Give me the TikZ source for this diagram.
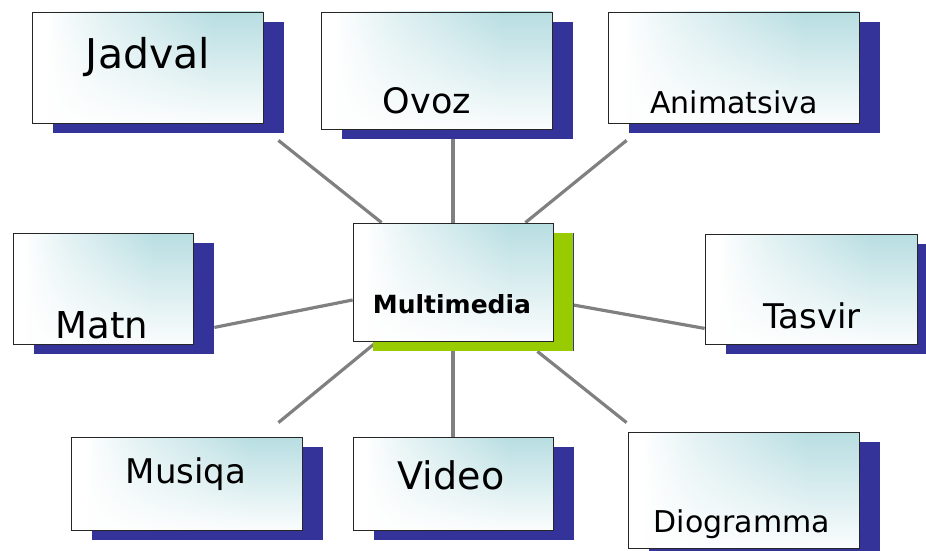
\documentclass[tikz,border=0pt]{standalone}
\usepackage{fontspec}
\setmainfont{DejaVu Sans}
\usetikzlibrary{positioning,calc,shadows,fadings,backgrounds}

\definecolor{boxteal}{RGB}{184,222,226}
\definecolor{shadowblue}{RGB}{51,51,153}
\definecolor{shadowgreen}{RGB}{153,204,0}
\definecolor{linkgray}{RGB}{128,128,128}

\pgfdeclarehorizontalshading{cardshade}{100bp}{color(0bp)=(white); color(28bp)=(white); color(40bp)=(white!60!boxteal); color(64bp)=(boxteal); color(100bp)=(boxteal)}
\tikzfading[name=cardfade, top color=transparent!100, middle color=transparent!80, bottom color=transparent!5]
\newcommand{\lblsize}[1]{\fontsize{#1}{#1}\selectfont}

\begin{document}
\begin{tikzpicture}[
x=1pt, y=-1pt,
card/.style={
  rectangle,
  draw=black!85,
  line width=0.8pt,
  inner sep=0pt,
  shading=cardshade,
  path picture={
    \fill[white, path fading=cardfade]
      (path picture bounding box.south west) rectangle (path picture bounding box.north east);
    },
  drop shadow={shadow xshift=21pt, shadow yshift=-10pt, fill=shadowblue, opacity=1}
  },
hub/.style={
  card,
  drop shadow={shadow xshift=20pt, shadow yshift=-10pt, fill=shadowgreen, opacity=1}
  },
lbl/.style={
  inner sep=0pt,
  anchor=base
  },
link/.style={
  draw=linkgray,
  line width=3.2pt
  }
]
\useasboundingbox (0,0) rectangle (926,551);

% boxes
\node[hub, minimum width=200pt, minimum height=118pt] (multi) at (453,282) {};
\node[card, minimum width=231pt, minimum height=111pt] (jadval) at (147.5,67.5) {};
\node[card, minimum width=231pt, minimum height=117pt] (ovoz) at (436.5,70.5) {};
\node[card, minimum width=251pt, minimum height=111pt] (anim) at (733.5,67.5) {};
\node[card, minimum width=180pt, minimum height=111pt] (matn) at (103,288.5) {};
\node[card, minimum width=212pt, minimum height=110pt] (tasvir) at (811,289) {};
\node[card, minimum width=231pt, minimum height=93pt] (musiqa) at (186.5,483.5) {};
\node[card, minimum width=200pt, minimum height=93pt] (video) at (453,483.5) {};
\node[card, minimum width=231pt, minimum height=116pt] (diog) at (743.5,490) {};

% labels
\node[lbl, font=\lblsize{25}\bfseries] (multi-t) at (452,313) {Multimedia};
\node[lbl, font=\lblsize{41}] (jadval-t) at (148,68) {Jadval};
\node[lbl, font=\lblsize{35}] (ovoz-t) at (427,113) {Ovoz};
\node[lbl, font=\lblsize{30}] (anim-t) at (734,113) {Animatsiva};
\node[lbl, font=\lblsize{37}] (matn-t) at (102,338) {Matn};
\node[lbl, font=\lblsize{34}] (tasvir-t) at (812,328) {Tasvir};
\node[lbl, font=\lblsize{34}] (musiqa-t) at (186,483) {Musiqa};
\node[lbl, font=\lblsize{38}] (video-t) at (451,489) {Video};
\node[lbl, font=\lblsize{30}] (diog-t) at (742,532) {Diogramma};

% connector ends
\coordinate (jadval-end) at ($(jadval.south east)+(15,17)$);
\coordinate (ovoz-end) at ($(ovoz.south)+(16.5,10)$);
\coordinate (anim-end) at ($(anim.south west)+(19,17)$);
\coordinate (matn-end) at ($(matn.south east)+(21,-17)$);
\coordinate (tasvir-end) at ($(tasvir.south west)+(0,-16)$);
\coordinate (musiqa-end) at ($(musiqa.north east)+(-24,-14)$);
\coordinate (diog-end) at ($(diog.north west)+(-1,-9)$);

\coordinate (hub-jadval) at ($(multi.north west)+(29,0)$);
\coordinate (hub-anim) at ($(multi.north east)+(-28,0)$);
\coordinate (hub-matn) at ($(multi.west)+(0,18)$);
\coordinate (hub-tasvir) at ($(multi.east)+(20,23)$);
\coordinate (hub-musiqa) at ($(multi.south west)+(21,3)$);
\coordinate (hub-diog) at ($(multi.south east)+(-16,10)$);

\begin{pgfonlayer}{background}
\foreach \a/\b in {jadval-end/hub-jadval, ovoz-end/multi.north, anim-end/hub-anim,
  matn-end/hub-matn, tasvir-end/hub-tasvir, musiqa-end/hub-musiqa,
  video.north/multi.south, diog-end/hub-diog}
  \draw[link] (\a) -- (\b);
\end{pgfonlayer}

\end{tikzpicture}
\end{document}
